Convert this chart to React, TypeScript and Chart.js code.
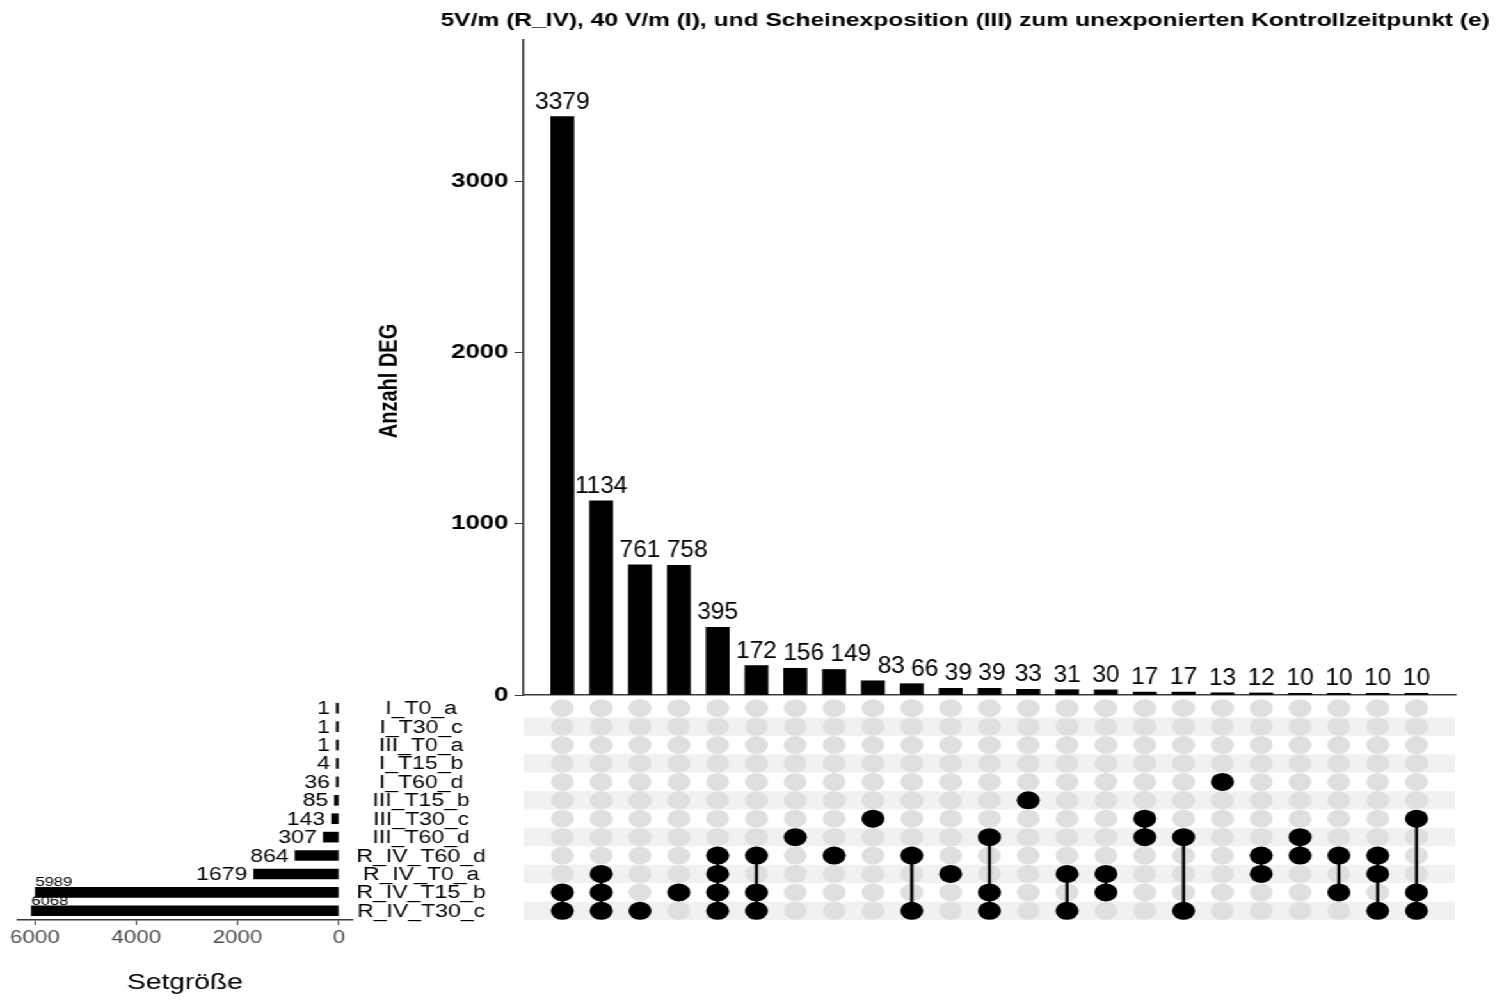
import React, { useEffect, useRef } from "react";
import { Chart, registerables } from "chart.js";

Chart.register(...registerables);

// The reference figure is horizontally stretched; we draw in "unstretched" units and scale by S.
const S = 1.28;

const TITLE =
  "5V/m (R_IV), 40 V/m (I), und Scheinexposition (III) zum unexponierten Kontrollzeitpunkt (e)";
const Y_TITLE = "Anzahl DEG";
const SET_AXIS_TITLE = "Setgröße";

const intersectionSizes = [
  3379, 1134, 761, 758, 395, 172, 156, 149, 83, 66, 39, 39, 33, 31, 30, 17, 17, 13, 12, 10, 10, 10, 10,
];

const setNames = [
  "I_T0_a",
  "I_T30_c",
  "III_T0_a",
  "I_T15_b",
  "I_T60_d",
  "III_T15_b",
  "III_T30_c",
  "III_T60_d",
  "R_IV_T60_d",
  "R_IV_T0_a",
  "R_IV_T15_b",
  "R_IV_T30_c",
];
const setSizes = [1, 1, 1, 4, 36, 85, 143, 307, 864, 1679, 5989, 6068];

const intersectionMembers = [
  ["R_IV_T15_b", "R_IV_T30_c"],
  ["R_IV_T0_a", "R_IV_T15_b", "R_IV_T30_c"],
  ["R_IV_T30_c"],
  ["R_IV_T15_b"],
  ["R_IV_T60_d", "R_IV_T0_a", "R_IV_T15_b", "R_IV_T30_c"],
  ["R_IV_T60_d", "R_IV_T15_b", "R_IV_T30_c"],
  ["III_T60_d"],
  ["R_IV_T60_d"],
  ["III_T30_c"],
  ["R_IV_T60_d", "R_IV_T30_c"],
  ["R_IV_T0_a"],
  ["III_T60_d", "R_IV_T15_b", "R_IV_T30_c"],
  ["III_T15_b"],
  ["R_IV_T0_a", "R_IV_T30_c"],
  ["R_IV_T0_a", "R_IV_T15_b"],
  ["III_T30_c", "III_T60_d"],
  ["III_T60_d", "R_IV_T30_c"],
  ["I_T60_d"],
  ["R_IV_T60_d", "R_IV_T0_a"],
  ["III_T60_d", "R_IV_T60_d"],
  ["R_IV_T60_d", "R_IV_T15_b"],
  ["R_IV_T60_d", "R_IV_T0_a", "R_IV_T30_c"],
  ["III_T30_c", "R_IV_T15_b", "R_IV_T30_c"],
];

const mainTicks = [0, 1000, 2000, 3000];
const setTicks = [0, 2000, 4000, 6000];

const FONT = '"Liberation Sans", Arial, sans-serif';
const AXIS_COLOR = "#3a3a3a";

type Box = { left: number; top: number; width: number; height: number };

function ChartBox({ box, build }: { box: Box; build: () => any }) {
  const ref = useRef<HTMLCanvasElement>(null);
  useEffect(() => {
    const chart = new Chart(ref.current as HTMLCanvasElement, build());
    return () => chart.destroy();
  }, []);
  return (
    <canvas
      ref={ref}
      width={box.width}
      height={box.height}
      style={{ position: "absolute", left: box.left, top: box.top }}
    />
  );
}

// draw text with a horizontal squeeze (to undo part of the page stretch)
function squeezedText(ctx: any, text: string, x: number, y: number, k: number) {
  ctx.save();
  ctx.translate(x, y);
  ctx.scale(k, 1);
  ctx.fillText(text, 0, 0);
  ctx.restore();
}

// ---------- main intersection bar chart ----------
const MAIN_BOX: Box = { left: 280, top: 0, width: 891, height: 712 };
const LABEL_K = 0.83;

const barLabelPlugin = {
  id: "barLabels",
  afterDatasetsDraw(chart: any) {
    const ctx = chart.ctx;
    const meta = chart.getDatasetMeta(0);
    ctx.save();
    ctx.font = `23px ${FONT}`;
    ctx.fillStyle = "#000";
    ctx.textAlign = "center";
    ctx.textBaseline = "alphabetic";
    let prevRight = -Infinity;
    let prevY = 0;
    meta.data.forEach((el: any, i: number) => {
      const text = String(intersectionSizes[i]);
      const w = ctx.measureText(text).width * LABEL_K;
      const y = el.y - 8;
      let cx = el.x;
      // keep neighbouring labels from colliding: nudge to the right
      if (Math.abs(y - prevY) < 18 && cx - w / 2 < prevRight + 5) {
        cx = prevRight + 5 + w / 2;
      }
      squeezedText(ctx, text, cx, y, LABEL_K);
      prevRight = cx + w / 2;
      prevY = y;
    });
    ctx.restore();
  },
};

const titlePlugin = {
  id: "figTitle",
  afterDraw(chart: any) {
    const ctx = chart.ctx;
    ctx.save();
    ctx.font = `bold 19.2px ${FONT}`;
    ctx.fillStyle = "#000";
    ctx.textAlign = "right";
    ctx.textBaseline = "middle";
    ctx.fillText(TITLE, chart.width - 7, 21);
    // y-axis title
    ctx.font = `bold 20px ${FONT}`;
    ctx.textAlign = "center";
    ctx.translate(24, 381);
    ctx.rotate(-Math.PI / 2);
    ctx.fillText(Y_TITLE, 0, 0);
    ctx.restore();
  },
};

function buildMain() {
  return {
    type: "bar",
    data: {
      datasets: [
        {
          data: intersectionSizes.map((v, i) => ({ x: i + 1, y: v })),
          backgroundColor: "#000",
          borderWidth: 0,
          barThickness: 18,
        },
      ],
    },
    options: {
      animation: false,
      responsive: false,
      layout: { padding: { top: 40, right: 34, bottom: 14, left: 0 } },
      plugins: { legend: { display: false }, tooltip: { enabled: false } },
      scales: {
        x: {
          type: "linear",
          min: 0,
          max: 24,
          offset: false,
          ticks: { display: false },
          grid: { display: false },
          border: { display: true, color: AXIS_COLOR, width: 1.5 },
          afterFit(s: any) {
            s.height = 0;
          },
        },
        y: {
          type: "linear",
          min: 0,
          max: 3826,
          afterBuildTicks(s: any) {
            s.ticks = mainTicks.map((v) => ({ value: v }));
          },
          ticks: {
            font: { family: FONT, weight: "bold", size: 20 },
            color: "#000",
            padding: 5,
            callback: (v: any) => String(v),
          },
          grid: {
            display: true,
            drawOnChartArea: false,
            drawTicks: true,
            tickLength: 7,
            color: AXIS_COLOR,
          },
          border: { display: true, color: AXIS_COLOR, width: 1.5 },
          title: { display: false, text: Y_TITLE },
          afterFit(s: any) {
            s.width = 129;
          },
        },
      },
    },
    plugins: [barLabelPlugin, titlePlugin],
  };
}

// ---------- matrix ----------
const MATRIX_BOX: Box = { left: 409, top: 699, width: 728, height: 221 };

const bandsPlugin = {
  id: "bands",
  beforeDatasetsDraw(chart: any) {
    const { ctx, chartArea } = chart;
    const y = chart.scales.y;
    ctx.save();
    ctx.fillStyle = "#f1f1f1";
    for (let i = 1; i < setNames.length; i += 2) {
      const y0 = y.getPixelForValue(i - 0.5);
      const y1 = y.getPixelForValue(i + 0.5);
      ctx.fillRect(chartArea.left, Math.min(y0, y1), chartArea.right - chartArea.left, Math.abs(y1 - y0));
    }
    ctx.restore();
  },
};

function buildMatrix() {
  const allPts: { x: number; y: number }[] = [];
  const onPts: { x: number; y: number }[] = [];
  const lineSets: any[] = [];
  intersectionMembers.forEach((members, c) => {
    const rows = members.map((m) => setNames.indexOf(m));
    setNames.forEach((_, r) => allPts.push({ x: c + 1, y: r }));
    rows.forEach((r) => onPts.push({ x: c + 1, y: r }));
    if (rows.length > 1) {
      lineSets.push({
        type: "scatter",
        data: [
          { x: c + 1, y: Math.min(...rows) },
          { x: c + 1, y: Math.max(...rows) },
        ],
        showLine: true,
        borderColor: "#000",
        borderWidth: 2.4,
        pointRadius: 0,
        order: 1,
        clip: false,
      });
    }
  });
  return {
    type: "scatter",
    data: {
      datasets: [
        {
          data: onPts,
          pointRadius: 9,
          pointHoverRadius: 9,
          backgroundColor: "#000",
          borderWidth: 0,
          order: 0,
          clip: false,
        },
        ...lineSets,
        {
          data: allPts,
          pointRadius: 9,
          pointHoverRadius: 9,
          backgroundColor: "#dfdfdf",
          borderWidth: 0,
          order: 2,
          clip: false,
        },
      ],
    },
    options: {
      animation: false,
      responsive: false,
      layout: { padding: 0, autoPadding: false },
      plugins: { legend: { display: false }, tooltip: { enabled: false } },
      scales: {
        x: { type: "linear", min: 0, max: 24, display: false },
        y: { type: "linear", min: -0.5, max: 11.5, reverse: true, display: false },
      },
    },
    plugins: [bandsPlugin],
  };
}

// ---------- set size chart ----------
const SET_BOX: Box = { left: 0, top: 699, width: 409, height: 301 };

const setLabelPlugin = {
  id: "setLabels",
  afterDatasetsDraw(chart: any) {
    const ctx = chart.ctx;
    const meta = chart.getDatasetMeta(0);
    ctx.save();
    ctx.fillStyle = "#000";
    meta.data.forEach((el: any, i: number) => {
      const v = setSizes[i];
      const end = Math.min(el.x, el.base);
      if (v > 5000) {
        ctx.font = `13px ${FONT}`;
        ctx.textAlign = "left";
        ctx.textBaseline = "alphabetic";
        ctx.fillText(String(v), end, el.y - el.height / 2 - 1);
      } else {
        ctx.font = `18px ${FONT}`;
        ctx.textAlign = "right";
        ctx.textBaseline = "middle";
        ctx.fillText(String(v), end - 5, el.y + 1);
      }
      ctx.font = `18px ${FONT}`;
      ctx.textAlign = "center";
      ctx.textBaseline = "middle";
      ctx.fillText(setNames[i], 329, el.y + 1);
    });
    ctx.restore();
  },
};

function buildSets() {
  return {
    type: "bar",
    data: {
      labels: setNames,
      datasets: [
        {
          data: setSizes,
          backgroundColor: "#000",
          borderWidth: 0,
          barThickness: 10,
          minBarLength: 2,
        },
      ],
    },
    options: {
      indexAxis: "y",
      animation: false,
      responsive: false,
      layout: { padding: { left: 14, right: 134, top: 0, bottom: 0 } },
      plugins: { legend: { display: false }, tooltip: { enabled: false } },
      scales: {
        x: {
          type: "linear",
          reverse: true,
          min: -258,
          max: 6334,
          afterBuildTicks(s: any) {
            s.ticks = setTicks.map((v) => ({ value: v }));
          },
          ticks: {
            font: { family: FONT, size: 17.5 },
            color: "#4d4d4d",
            padding: 3,
            maxRotation: 0,
            callback: (v: any) => String(v),
          },
          grid: {
            display: true,
            drawOnChartArea: false,
            drawTicks: true,
            tickLength: 5,
            color: AXIS_COLOR,
          },
          border: { display: true, color: AXIS_COLOR, width: 1.5 },
          title: {
            display: true,
            text: SET_AXIS_TITLE,
            font: { family: FONT, size: 22 },
            color: "#000",
            padding: { top: 0, bottom: 4 },
          },
          afterFit(s: any) {
            s.height = 80;
          },
        },
        y: { display: false },
      },
    },
    plugins: [setLabelPlugin],
  };
}

export default function App() {
  return (
    <div
      style={{
        position: "absolute",
        left: 0,
        top: 0,
        width: 1171,
        height: 1000,
        background: "#fff",
        transform: `scaleX(${S})`,
        transformOrigin: "0 0",
        overflow: "hidden",
      }}
    >
      <ChartBox box={MAIN_BOX} build={buildMain} />
      <ChartBox box={MATRIX_BOX} build={buildMatrix} />
      <ChartBox box={SET_BOX} build={buildSets} />
    </div>
  );
}
